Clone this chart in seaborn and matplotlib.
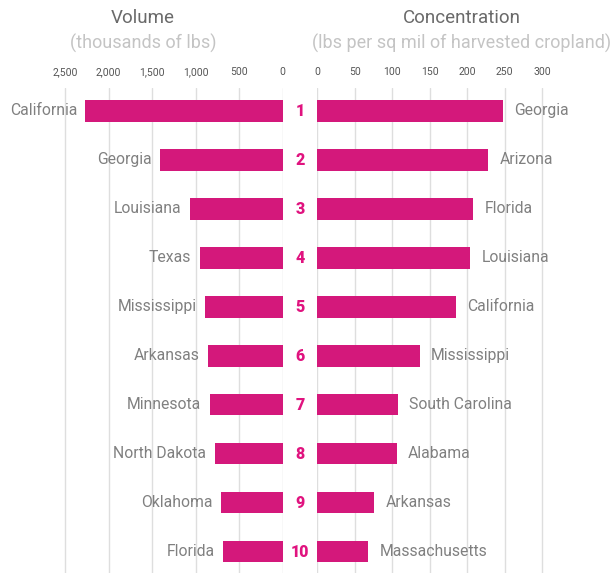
import matplotlib
matplotlib.use("Agg")
import matplotlib.pyplot as plt
import matplotlib.transforms as mtransforms
import seaborn as sns
import pandas as pd

# ---- data ----
vol_states = ["California", "Georgia", "Louisiana", "Texas", "Mississippi",
              "Arkansas", "Minnesota", "North Dakota", "Oklahoma", "Florida"]
vol_values = [2265, 1405, 1065, 952, 896, 854, 838, 781, 712, 682]
conc_states = ["Georgia", "Arizona", "Florida", "Louisiana", "California",
               "Mississippi", "South Carolina", "Alabama", "Arkansas", "Massachusetts"]
conc_values = [247, 228, 208, 204, 185, 137, 108, 106, 76, 68]
ranks = [str(i) for i in range(1, 11)]
vol_ticks = [0, 500, 1000, 1500, 2000, 2500]
conc_ticks = [0, 50, 100, 150, 200, 250, 300]

BAR = "#D4187B"
RANK = "#E0137F"
LABEL = "#808080"
GRID = "#dedede"

sns.set_theme(style="white")
plt.rcParams["font.family"] = ["Roboto", "DejaVu Sans"]

W, H = 615, 573
fig = plt.figure(figsize=(W / 100, H / 100), dpi=100)
top = 485 / H
axL = fig.add_axes([0, 0, 282.7 / W, top])
axR = fig.add_axes([317.3 / W, 0, (W - 317.3) / W, top])

dfL = pd.DataFrame({"state": vol_states, "value": vol_values})
dfR = pd.DataFrame({"state": conc_states, "value": conc_values})

sns.barplot(data=dfL, x="value", y="state", order=vol_states, color=BAR,
            saturation=1, width=0.44, ax=axL, linewidth=0)
sns.barplot(data=dfR, x="value", y="state", order=conc_states, color=BAR,
            saturation=1, width=0.44, ax=axR, linewidth=0)

axL.set_xlim(282.7 / 0.0871, 0)
axR.set_xlim(0, (W - 317.3) / 0.75)

for ax, ticks, fmt in [(axL, vol_ticks, lambda v: f"{v:,}"), (axR, conc_ticks, lambda v: f"{v}")]:
    ax.set_ylim(9.435, -0.465)
    ax.set_xticks(ticks)
    ax.set_xticklabels([fmt(t) for t in ticks])
    ax.xaxis.tick_top()
    ax.tick_params(axis="x", length=0, pad=8, labelsize=7.5, labelcolor="#555555")
    ax.set_yticks([])
    ax.set_xlabel("")
    ax.set_ylabel("")
    for s in ax.spines.values():
        s.set_visible(False)
    ax.grid(axis="x", color=GRID, linewidth=1)
    ax.grid(axis="y", visible=False)
    ax.set_axisbelow(True)
    ax.patch.set_alpha(0)

# state labels next to bars
for i, (s, v) in enumerate(zip(vol_states, vol_values)):
    axL.annotate(s, (v, i), xytext=(-6, 0), textcoords="offset points",
                 ha="right", va="center", fontsize=11.3, color=LABEL)
for i, (s, v) in enumerate(zip(conc_states, conc_values)):
    axR.annotate(s, (v, i), xytext=(8, 0), textcoords="offset points",
                 ha="left", va="center", fontsize=11.3, color=LABEL)

# rank numbers
tr = mtransforms.blended_transform_factory(fig.transFigure, axL.transData)
for i, r in enumerate(ranks):
    axL.text(300 / W, i, r, transform=tr, ha="center", va="center",
             fontsize=11.5, fontweight="heavy", color=RANK, clip_on=False)

# titles
fig.text(143 / W, 1 - 18 / H, "Volume", ha="center", va="center", fontsize=13.5,
         color="#6a6a6a")
fig.text(143 / W, 1 - 43 / H, "(thousands of lbs)", ha="center", va="center", fontsize=13,
         color="#c4c4c4")
fig.text(461.5 / W, 1 - 18 / H, "Concentration", ha="center", va="center", fontsize=13.5,
         color="#6a6a6a")
fig.text(461.5 / W, 1 - 43 / H, "(lbs per sq mil of harvested cropland)", ha="center", va="center",
         fontsize=13, color="#c4c4c4")

fig.savefig("out.png", dpi=100, facecolor="white")
